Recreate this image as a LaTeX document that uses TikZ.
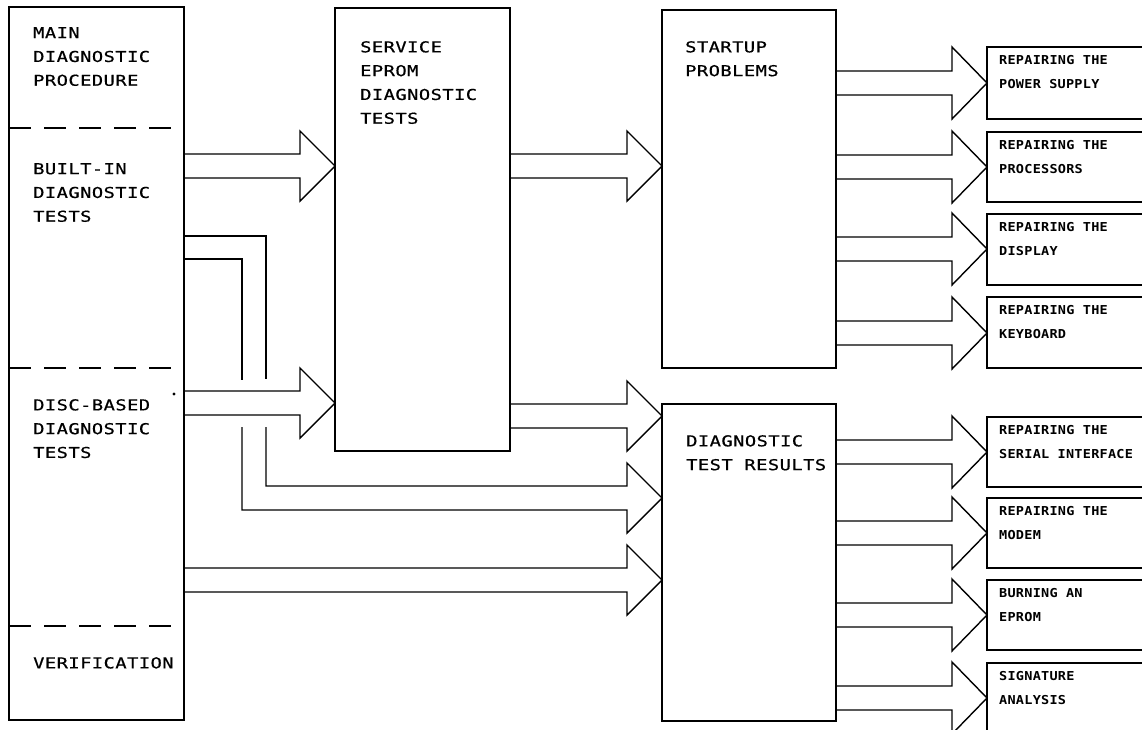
\documentclass[tikz,border=0pt]{standalone}
\usepackage{fontspec}
\newfontfamily\plotfont[FakeStretch=1.25,LetterSpace=3,FakeBold=0.6]{DejaVu Sans Mono}
\newfontfamily\plotbold[FakeStretch=1.1,LetterSpace=2]{DejaVu Sans Mono}
\usetikzlibrary{calc}
\tikzset{
  conn/.style={line width=1.4pt, line join=miter},
  blk/.style={draw, line width=1.4pt, rectangle, inner sep=0pt, outer sep=0pt, anchor=north west},
  txt/.style={inner sep=0pt, anchor=north west, align=left, font=\plotfont\fontsize{15}{23.8}\selectfont},
  rtxt/.style={inner sep=0pt, anchor=north west, align=left, font=\plotbold\bfseries\fontsize{12.3}{24}\selectfont},
  dashsep/.style={line width=1.4pt, dash pattern=on 22pt off 13pt}
}
% #1 source node, #2 target node, #3 mid y, #4 shaft half width, #5 head half height
\newcommand\barrow[5]{%
  \draw[conn] (#1.east |- 0,#3-#4)
    -- ($(#2.west |- 0,#3-#4)+(-35,0)$)
    -- ($(#2.west |- 0,#3-#5)+(-35,0)$)
    -- (#2.west |- 0,#3)
    -- ($(#2.west |- 0,#3+#5)+(-35,0)$)
    -- ($(#2.west |- 0,#3+#4)+(-35,0)$)
    -- (#1.east |- 0,#3+#4);}
\begin{document}
\begin{tikzpicture}[x=1pt,y=-1pt]
\useasboundingbox (0,0) rectangle (1142,729);
\clip (0,0) rectangle (1142,729);
% boxes
\node[blk, minimum width=175pt, minimum height=713pt] (main) at (9,7) {};
\node[blk, minimum width=175pt, minimum height=443pt] (svc) at (335,8) {};
\node[blk, minimum width=174pt, minimum height=358pt] (start) at (662,10) {};
\node[blk, minimum width=174pt, minimum height=317pt] (res) at (662,404) {};
\node[blk, minimum width=170pt, minimum height=72pt] (r1) at (987,47) {};
\node[blk, minimum width=170pt, minimum height=70pt] (r2) at (987,132) {};
\node[blk, minimum width=170pt, minimum height=71pt] (r3) at (987,214) {};
\node[blk, minimum width=170pt, minimum height=71pt] (r4) at (987,297) {};
\node[blk, minimum width=170pt, minimum height=70pt] (r5) at (987,417) {};
\node[blk, minimum width=170pt, minimum height=70pt] (r6) at (987,498) {};
\node[blk, minimum width=170pt, minimum height=70pt] (r7) at (987,580) {};
\node[blk, minimum width=170pt, minimum height=70pt] (r8) at (987,663) {};
% dashed separators in the left box
\draw[dashsep] (9,128) -- (172,128);
\draw[dashsep] (9,368) -- (172,368);
\draw[dashsep] (9,626) -- (172,626);
% texts
\node[txt] (tmain) at (33,27) {MAIN\\DIAGNOSTIC\\PROCEDURE};
\node[txt] (tbuilt) at (33,163) {BUILT-IN\\DIAGNOSTIC\\TESTS};
\node[txt] (tdisc) at (33,399) {DISC-BASED\\DIAGNOSTIC\\TESTS};
\node[txt] (tverif) at (33,657) {VERIFICATION};
\node[txt] (tsvc) at (360,41) {SERVICE\\EPROM\\DIAGNOSTIC\\TESTS};
\node[txt] (tstart) at (685,41) {STARTUP\\PROBLEMS};
\node[txt] (tres) at (686,435) {DIAGNOSTIC\\TEST RESULTS};
\node[rtxt] (t1) at ([shift={(12,8)}]r1.north west) {REPAIRING THE\\POWER SUPPLY};
\node[rtxt] (t2) at ([shift={(12,8)}]r2.north west) {REPAIRING THE\\PROCESSORS};
\node[rtxt] (t3) at ([shift={(12,8)}]r3.north west) {REPAIRING THE\\DISPLAY};
\node[rtxt] (t4) at ([shift={(12,8)}]r4.north west) {REPAIRING THE\\KEYBOARD};
\node[rtxt] (t5) at ([shift={(12,8)}]r5.north west) {REPAIRING THE\\SERIAL INTERFACE};
\node[rtxt] (t6) at ([shift={(12,8)}]r6.north west) {REPAIRING THE\\MODEM};
\node[rtxt] (t7) at ([shift={(12,8)}]r7.north west) {BURNING AN\\EPROM};
\node[rtxt] (t8) at ([shift={(12,8)}]r8.north west) {SIGNATURE\\ANALYSIS};
% block arrows
\barrow{main}{svc}{166}{12}{35}
\barrow{main}{svc}{403}{12}{35}
\barrow{svc}{start}{166}{12}{35}
\barrow{svc}{res}{416}{12}{35}
\barrow{main}{res}{580}{12}{35}
\barrow{start}{r1}{83}{12}{36}
\barrow{start}{r2}{167}{12}{36}
\barrow{start}{r3}{249}{12}{36}
\barrow{start}{r4}{333}{12}{36}
\barrow{res}{r5}{452}{12}{36}
\barrow{res}{r6}{533}{12}{36}
\barrow{res}{r7}{615}{12}{36}
\barrow{res}{r8}{698}{12}{36}
% bent arrow from built-in tests to diagnostic test results
\coordinate (ua) at (266,379);
\coordinate (ub) at (242,380);
\coordinate (la) at (266,427);
\coordinate (lb) at (242,427);
\draw[conn] (main.east |- 0,236) -| (ua);
\draw[conn] (main.east |- 0,259) -| (ub);
\draw[conn] (la) |- ($(res.west |- 0,486)+(-35,0)$)
  -- ($(res.west |- 0,463)+(-35,0)$)
  -- (res.west |- 0,498)
  -- ($(res.west |- 0,533)+(-35,0)$)
  -- ($(res.west |- 0,510)+(-35,0)$)
  -| (lb);
% stray dot
\fill (174,394) circle (1.7pt);
\end{tikzpicture}
\end{document}
